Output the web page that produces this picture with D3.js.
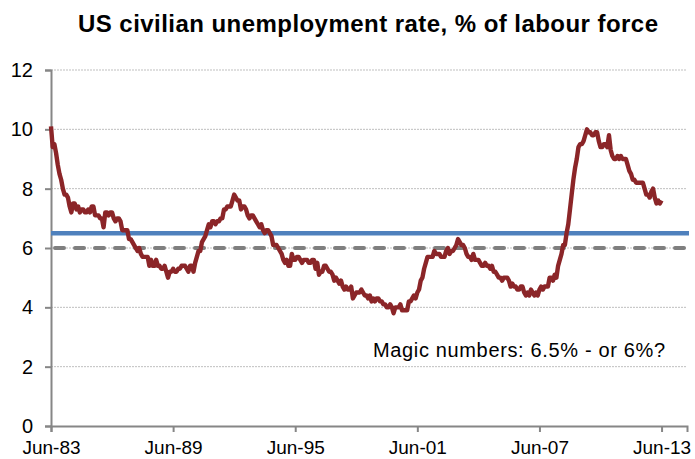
<!DOCTYPE html>
<html><head><meta charset="utf-8">
<script src="https://cdn.jsdelivr.net/npm/d3@7"></script>
<style>body{margin:0;background:#fff}svg{display:block}</style>
</head><body>
<script>
// Monthly US unemployment rate, Jun-1983 onwards
const startYear = 1983, startMonth = 5; // June (0-based)
const rates = [
  10.1,9.4,9.5,9.2,8.8,8.5,8.3,
  8.0,7.8,7.8,7.7,7.4,7.2,7.5,7.5,7.3,7.4,7.2,7.3,
  7.3,7.2,7.2,7.3,7.2,7.4,7.4,7.1,7.1,7.1,7.0,7.0,
  6.7,7.2,7.2,7.1,7.2,7.2,7.0,6.9,7.0,7.0,6.9,6.6,
  6.6,6.6,6.6,6.3,6.3,6.2,6.1,6.0,5.9,6.0,5.8,5.7,
  5.7,5.7,5.7,5.4,5.6,5.4,5.4,5.6,5.4,5.4,5.3,5.3,
  5.4,5.2,5.0,5.2,5.2,5.3,5.2,5.2,5.3,5.3,5.4,5.4,
  5.4,5.3,5.2,5.4,5.4,5.2,5.5,5.7,5.9,5.9,6.2,6.3,
  6.4,6.6,6.8,6.7,6.9,6.9,6.8,6.9,6.9,7.0,7.0,7.3,
  7.3,7.4,7.4,7.4,7.6,7.8,7.7,7.6,7.6,7.3,7.4,7.4,
  7.3,7.1,7.0,7.1,7.1,7.0,6.9,6.8,6.7,6.8,6.6,6.5,
  6.6,6.6,6.5,6.4,6.1,6.1,6.1,6.0,5.9,5.8,5.6,5.5,
  5.6,5.4,5.4,5.8,5.6,5.6,5.7,5.7,5.6,5.5,5.6,5.6,
  5.6,5.5,5.5,5.6,5.6,5.3,5.5,5.1,5.2,5.2,5.4,5.4,
  5.3,5.2,5.2,5.1,4.9,5.0,4.9,4.8,4.9,4.7,4.6,4.7,
  4.6,4.6,4.7,4.3,4.4,4.5,4.5,4.5,4.6,4.5,4.4,4.4,
  4.3,4.4,4.2,4.3,4.2,4.3,4.3,4.2,4.2,4.1,4.1,4.0,
  4.0,4.1,4.0,3.8,4.0,4.0,4.0,4.1,3.9,3.9,3.9,3.9,
  4.2,4.2,4.3,4.4,4.3,4.5,4.6,4.9,5.0,5.3,5.5,5.7,
  5.7,5.7,5.7,5.9,5.8,5.8,5.8,5.7,5.7,5.7,5.9,6.0,
  5.8,5.9,5.9,6.0,6.1,6.3,6.2,6.1,6.1,6.0,5.8,5.7,
  5.7,5.6,5.8,5.6,5.6,5.6,5.5,5.4,5.4,5.5,5.4,5.4,
  5.3,5.4,5.2,5.2,5.1,5.0,5.0,4.9,5.0,5.0,5.0,4.9,
  4.7,4.8,4.7,4.7,4.6,4.6,4.7,4.7,4.5,4.4,4.5,4.4,
  4.6,4.5,4.4,4.5,4.4,4.6,4.7,4.6,4.7,4.7,4.7,5.0,
  5.0,4.9,5.1,5.0,5.4,5.6,5.8,6.1,6.1,6.5,6.8,7.3,
  7.8,8.3,8.7,9.0,9.4,9.5,9.5,9.6,9.8,10.0,9.9,9.9,
  9.8,9.8,9.9,9.9,9.6,9.4,9.4,9.5,9.5,9.4,9.8,9.3,
  9.1,9.0,9.0,9.1,9.0,9.1,9.0,9.0,9.0,8.8,8.6,8.5,
  8.3,8.3,8.2,8.2,8.2,8.2,8.2,8.0,7.8,7.8,7.7,7.9,
  8.0,7.7,7.5,7.6,7.5,7.6
];
const tickLabels = ["Jun-83","Jun-89","Jun-95","Jun-01","Jun-07","Jun-13"];
const tickMonths = [0,72,144,216,288,360];
const yTicks = [0,2,4,6,8,10,12];
const target1 = 6.5, target2 = 6.0;
const titleText = "US civilian unemployment rate, % of labour force";
const noteText = "Magic numbers: 6.5% - or 6%?";

const W = 695, H = 459;
const svg = d3.select("body").append("svg").attr("width", W).attr("height", H);
const x = d3.scaleLinear().domain([0, 375]).range([51, 687]);
const y = d3.scaleLinear().domain([0, 12]).range([426, 70]);
const font = "Liberation Sans, Arial, sans-serif";

svg.append("text").attr("x", 368).attr("y", 32).attr("text-anchor","middle")
  .attr("font-family", font).attr("font-weight","bold").attr("font-size", 24)
  .attr("textLength", 580).attr("lengthAdjust","spacing")
  .attr("fill","#000").text(titleText);

// gridlines
svg.append("g").selectAll("line").data(yTicks.filter(d => d > 0)).join("line")
  .attr("x1", x(0)).attr("x2", x(375)).attr("y1", d => y(d)).attr("y2", d => y(d))
  .attr("stroke", "#bfbfbf").attr("stroke-width", 1).attr("stroke-dasharray","2,1");

// y axis
const yAxis = svg.append("g").attr("transform", `translate(${x(0)},0)`)
  .call(d3.axisLeft(y).tickValues(yTicks).tickSize(6).tickPadding(12).tickFormat(d3.format("d")));
yAxis.select(".domain").attr("stroke","#868686").attr("stroke-width",2);
yAxis.selectAll(".tick line").attr("stroke","#868686").attr("stroke-width",2);
yAxis.selectAll(".tick text").attr("font-family", font).attr("font-size", 20).attr("fill","#000");

// x axis
const xAxis = svg.append("g").attr("transform", `translate(0,${y(0)})`)
  .call(d3.axisBottom(x).tickValues(tickMonths).tickSize(6).tickPadding(9)
    .tickFormat((d,i) => tickLabels[i]));
xAxis.select(".domain").attr("stroke","#868686").attr("stroke-width",2);
xAxis.selectAll(".tick line").attr("stroke","#868686").attr("stroke-width",2);
xAxis.selectAll(".tick text").attr("font-family", font).attr("font-size", 19).attr("fill","#000");

// reference lines
svg.append("line").attr("x1", x(0)).attr("x2", x(375)+2).attr("y1", y(target1)).attr("y2", y(target1))
  .attr("stroke", "#4F81BD").attr("stroke-width", 4.5);
svg.append("line").attr("x1", x(0)+4).attr("x2", x(375)).attr("y1", y(target2)).attr("y2", y(target2))
  .attr("stroke", "#7F7F7F").attr("stroke-width", 4).attr("stroke-linecap","round")
  .attr("stroke-dasharray","9,11");

// data line
const line = d3.line().x((d,i) => x(i)).y(d => y(d));
svg.append("path").datum(rates).attr("d", line).attr("fill","none")
  .attr("stroke", "#8B2528").attr("stroke-width", 4.4).attr("stroke-linejoin","round");

svg.append("text").attr("x", 373).attr("y", 357).attr("font-family", font)
  .attr("font-size", 20).attr("textLength", 292).attr("lengthAdjust","spacing")
  .attr("fill","#000").text(noteText);
</script>
</body></html>
